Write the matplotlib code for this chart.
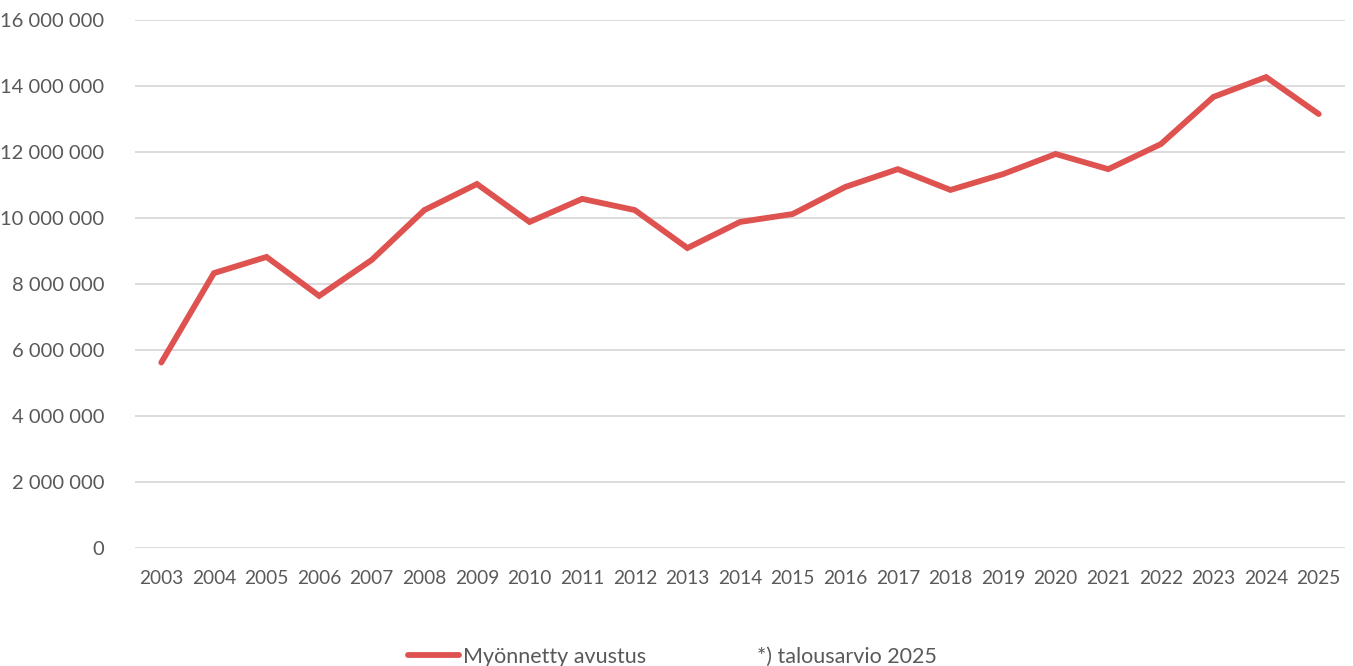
import matplotlib
matplotlib.use("Agg")
import matplotlib.pyplot as plt
from matplotlib.lines import Line2D
from matplotlib.ticker import FuncFormatter, MultipleLocator

years = [str(y) for y in range(2003, 2026)]
grants = [5.62e6, 8.33e6, 8.82e6, 7.64e6, 8.73e6, 10.24e6, 11.03e6, 9.88e6,
          10.58e6, 10.24e6, 9.09e6, 9.88e6, 10.12e6, 10.94e6, 11.48e6, 10.85e6,
          11.33e6, 11.94e6, 11.48e6, 12.24e6, 13.67e6, 14.27e6, 13.15e6]

line_color = "#DE5250"
text_color = "#595959"

plt.rcParams["font.family"] = ["Lato", "DejaVu Sans"]

fig = plt.figure(figsize=(13.53, 6.66), dpi=100)
ax = fig.add_axes([135 / 1353, 1 - 548 / 666, 1210 / 1353, 528 / 666])

x = list(range(len(years)))
ax.plot(x, grants, color=line_color, lw=4.2, solid_capstyle="round",
        solid_joinstyle="miter")

ax.set_xlim(-0.5, len(years) - 0.5)
ax.set_ylim(0, 16e6)
ax.yaxis.set_major_locator(MultipleLocator(2e6))
ax.yaxis.set_major_formatter(FuncFormatter(lambda v, p: f"{int(v):,}".replace(",", " ")))
ax.set_xticks(x)
ax.set_xticklabels(years)

ax.grid(axis="y", color="#D9D9D9", lw=1.3)
ax.set_axisbelow(True)
for s in ax.spines.values():
    s.set_visible(False)
ax.tick_params(axis="y", length=0, labelsize=14.5, colors=text_color, pad=22)
ax.tick_params(axis="x", length=0, labelsize=13.8, colors=text_color, pad=16)

handles = [Line2D([], [], color=line_color, lw=4.2, solid_capstyle="round"),
           Line2D([], [], color="none")]
leg = fig.legend(handles, ["Myönnetty avustus", "*) talousarvio 2025"],
                 loc="lower center", bbox_to_anchor=(0.497, -0.03), ncol=2,
                 frameon=False, fontsize=15.5, handlelength=2.4, handletextpad=0.2,
                 columnspacing=2.55)
for t in leg.get_texts():
    t.set_color(text_color)

fig.savefig("out.png", dpi=100)
